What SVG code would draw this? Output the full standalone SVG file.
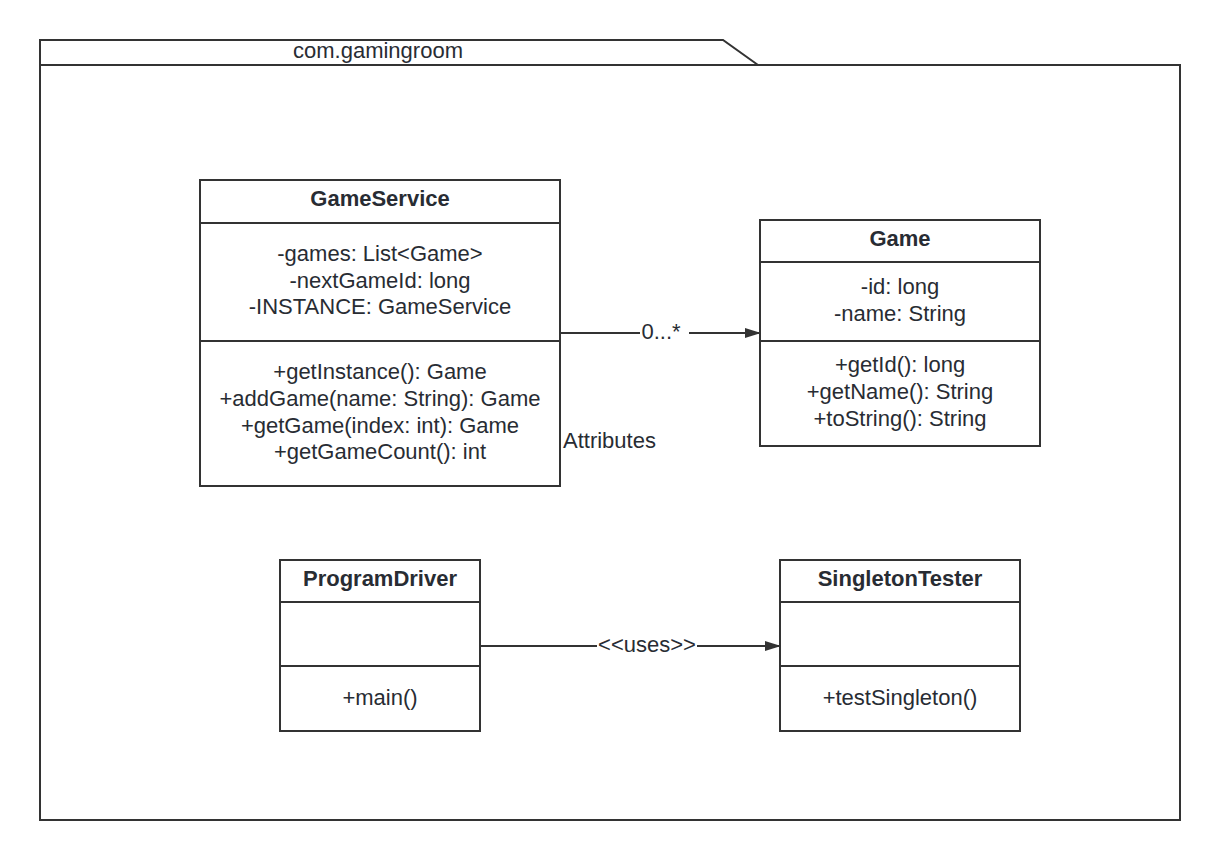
<svg xmlns="http://www.w3.org/2000/svg" width="1220" height="860" viewBox="0 0 1220 860">
<style>
.box{fill:#fff;stroke:#333;stroke-width:2}
.ln{stroke:#333;stroke-width:2;fill:none}
.t{font-family:"Liberation Sans",Arial,sans-serif;font-size:22px;fill:#282c33;text-anchor:middle}
.b{font-weight:bold}
.lbl{font-family:"Liberation Sans",Arial,sans-serif;font-size:22px;fill:#282c33}
</style>
<defs>
<marker id="arr" markerWidth="16" markerHeight="12" refX="15" refY="5" orient="auto" markerUnits="userSpaceOnUse">
<path d="M0,0 L16,5 L0,10 Z" fill="#333"/>
</marker>
</defs>
<rect width="1220" height="860" fill="#fff"/>
<g id="package">
<path class="ln" d="M40,65 L40,40 L723,40 L758,65"/>
<rect class="box" x="40" y="65" width="1140" height="755"/>
<text class="t" x="378" y="58">com.gamingroom</text>
</g>
<g id="GameService">
<rect class="box" x="200" y="180" width="360" height="306"/>
<line class="ln" x1="200" y1="223" x2="560" y2="223"/>
<line class="ln" x1="200" y1="341" x2="560" y2="341"/>
<text class="t b" x="380" y="206">GameService</text>
<text class="t" x="380" y="261">-games: List&lt;Game&gt;</text>
<text class="t" x="380" y="288">-nextGameId: long</text>
<text class="t" x="380" y="314">-INSTANCE: GameService</text>
<text class="t" x="380" y="379">+getInstance(): Game</text>
<text class="t" x="380" y="406">+addGame(name: String): Game</text>
<text class="t" x="380" y="433">+getGame(index: int): Game</text>
<text class="t" x="380" y="459">+getGameCount(): int</text>
</g>
<g id="Game">
<rect class="box" x="760" y="220" width="280" height="226"/>
<line class="ln" x1="760" y1="262" x2="1040" y2="262"/>
<line class="ln" x1="760" y1="341" x2="1040" y2="341"/>
<text class="t b" x="900" y="246">Game</text>
<text class="t" x="900" y="294">-id: long</text>
<text class="t" x="900" y="321">-name: String</text>
<text class="t" x="900" y="372">+getId(): long</text>
<text class="t" x="900" y="399">+getName(): String</text>
<text class="t" x="900" y="426">+toString(): String</text>
</g>
<g id="ProgramDriver">
<rect class="box" x="280" y="560" width="200" height="171"/>
<line class="ln" x1="280" y1="602" x2="480" y2="602"/>
<line class="ln" x1="280" y1="666" x2="480" y2="666"/>
<text class="t b" x="380" y="586">ProgramDriver</text>
<text class="t" x="380" y="705">+main()</text>
</g>
<g id="SingletonTester">
<rect class="box" x="780" y="560" width="240" height="171"/>
<line class="ln" x1="780" y1="602" x2="1020" y2="602"/>
<line class="ln" x1="780" y1="666" x2="1020" y2="666"/>
<text class="t b" x="900" y="586">SingletonTester</text>
<text class="t" x="900" y="705">+testSingleton()</text>
</g>
<g id="connectors">
<line class="ln" x1="560" y1="333" x2="640" y2="333"/>
<line class="ln" x1="689" y1="333" x2="760" y2="333" marker-end="url(#arr)"/>
<text class="t" x="661" y="339">0...*</text>
<line class="ln" x1="480" y1="646" x2="597" y2="646"/>
<line class="ln" x1="697" y1="646" x2="780" y2="646" marker-end="url(#arr)"/>
<text class="t" x="647" y="652">&lt;&lt;uses&gt;&gt;</text>
</g>
<text class="lbl" x="563" y="448">Attributes</text>
</svg>
